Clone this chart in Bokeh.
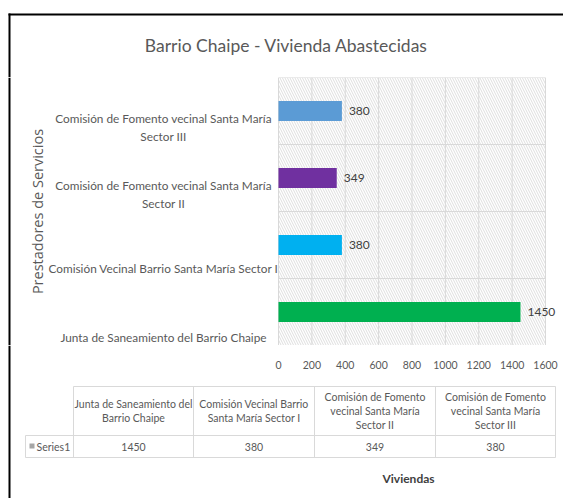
from math import pi
from bokeh.plotting import figure
from bokeh.layouts import column
from bokeh.models import ColumnDataSource, FactorRange, Range1d, Span
from bokeh.embed import file_html
from bokeh.resources import INLINE
from bokeh.core.properties import value

# ---------------- data ----------------
title_text = "Barrio Chaipe - Vivienda Abastecidas"
categories = [
    "Junta de Saneamiento del Barrio Chaipe",
    "Comisión Vecinal Barrio Santa María Sector I",
    "Comisión de Fomento vecinal Santa María Sector II",
    "Comisión de Fomento vecinal Santa María Sector III",
]
axis_labels = [
    "Junta de Saneamiento del Barrio Chaipe",
    "Comisión Vecinal Barrio Santa María Sector I",
    "Comisión de Fomento vecinal Santa María\nSector II",
    "Comisión de Fomento vecinal Santa María\nSector III",
]
table_headers = [
    "Junta de Saneamiento del\nBarrio Chaipe",
    "Comisión Vecinal Barrio\nSanta María Sector I",
    "Comisión de Fomento\nvecinal Santa María\nSector II",
    "Comisión de Fomento\nvecinal Santa María\nSector III",
]
viviendas = [1450, 380, 349, 380]
series_name = "Series1"
x_ticks = [0, 200, 400, 600, 800, 1000, 1200, 1400, 1600]
x_tick_labels = ["0", "200", "400", "600", "800", "1000", "1200", "1400", "1600"]
x_title = "Viviendas"
y_title = "Prestadores de Servicios"

# ---------------- styles / layout ----------------
bar_colors = ["#00b050", "#00b0f0", "#7030a0", "#5b9bd5"]
label_offsets = [25, 23, 16, 16]
GREY = "#595959"
DARK = "#404040"
LINE = "#d9d9d9"
FONT = "Lato"

W = 563
TOP_H, MID_H, BOT_H = 77, 268, 153        # page rows: 0-77, 77-345, 345-498
PL, PR = 278, 545                          # plot area left/right (page px)
K = (x_ticks[-1] - x_ticks[0]) / (PR - PL)  # data units per pixel


def val_range():
    return Range1d(x_ticks[0] - PL * K, x_ticks[-1] + (W - PR) * K)


def mkfig(h, y_range=None):
    f = figure(width=W, height=h, x_range=Range1d(0, W),
               y_range=y_range if y_range is not None else Range1d(h, 0),
               min_border=0, min_border_left=0, min_border_right=0,
               min_border_top=0, min_border_bottom=0,
               x_axis_location=None, y_axis_location=None,
               output_backend="svg", toolbar_location=None,
               background_fill_color="white", border_fill_color="white")
    f.outline_line_color = None
    f.xgrid.visible = False
    f.ygrid.visible = False
    return f


def txt(f, x, y, t, size, color=GREY, align="center", font=FONT, **kw):
    f.text(x=x, y=y, text=t, text_align=align, text_baseline="middle",
           text_font=value(font), text_font_size=value(size),
           text_color=color, **kw)


def left_rule(f):
    f.add_layout(Span(location=9, dimension="height", line_color="black",
                      line_width=2))


# ---------- top: title + frame ----------
top = mkfig(TOP_H)
top.quad(left=[8], right=[W], top=[13], bottom=[15], fill_color="black",
         line_color=None)
top.quad(left=[8], right=[10], top=[13], bottom=[TOP_H], fill_color="black",
         line_color=None)
txt(top, [286], [45], [title_text], "17.5px")

# ---------- middle: bars ----------
mid = mkfig(MID_H, y_range=FactorRange(factors=categories))
mid.extra_x_ranges = {"val": val_range()}
left_rule(mid)

lo, hi = (categories[0], -0.5), (categories[-1], 0.5)
mid.quad(left=[x_ticks[0]], right=[x_ticks[-1]], bottom=[lo], top=[hi],
         fill_alpha=0, line_alpha=0, hatch_pattern="\\", hatch_color="#d6d6d6",
         hatch_scale=5, hatch_weight=0.8, x_range_name="val")
mid.segment(x0=x_ticks, x1=x_ticks, y0=[lo] * len(x_ticks), y1=[hi] * len(x_ticks),
            line_color=LINE, line_width=1, x_range_name="val")
bound_y = [(c, -0.5) for c in categories] + [hi]
mid.segment(x0=[x_ticks[0]] * len(bound_y), x1=[x_ticks[-1]] * len(bound_y),
            y0=bound_y, y1=bound_y, line_color=LINE, line_width=1,
            x_range_name="val")

src = ColumnDataSource(dict(cat=categories, val=viviendas, color=bar_colors,
                            txt=[str(v) for v in viviendas],
                            lab=axis_labels, yoff=label_offsets,
                            lx=[163] * len(categories)))
mid.hbar(y="cat", left=0, right="val", height=0.3, fill_color="color",
         line_color=None, source=src, x_range_name="val")
mid.text(x="val", y="cat", text="txt", source=src, x_offset=7,
         text_align="left", text_baseline="middle", text_font=value(FONT),
         text_font_size=value("12px"), text_color=DARK, x_range_name="val")
mid.text(x="lx", y="cat", text="lab", source=src, y_offset="yoff",
         text_align="center", text_baseline="middle", text_font=value(FONT),
         text_font_size=value("11.8px"), text_line_height=1.2, text_color=GREY)
txt(mid, [37], [(categories[1], 0.5)], [y_title], "14.5px", font="Open Sans",
    angle=pi / 2)

# ---------- bottom: tick labels, data table, x title ----------
bot = mkfig(BOT_H)
bot.extra_x_ranges = {"val": val_range()}
left_rule(bot)
bot.text(x=x_ticks, y=[364 - 345] * len(x_ticks), text=x_tick_labels,
         text_align="center", text_baseline="middle", text_font=value(FONT),
         text_font_size=value("10.5px"), text_color=GREY, x_range_name="val")

T_TOP, T_MID, T_BOT = 386 - 345, 435 - 345, 457 - 345
cols = [25, 73, 193, 314, 435, 555]
hx0 = [cols[1], cols[0], cols[0]]
hy = [T_TOP, T_MID, T_BOT]
bot.segment(x0=hx0, x1=[cols[-1]] * 3, y0=hy, y1=hy, line_color=LINE, line_width=1)
vx = cols
vy0 = [T_MID] + [T_TOP] * (len(cols) - 1)
bot.segment(x0=vx, x1=vx, y0=vy0, y1=[T_BOT] * len(cols), line_color=LINE,
            line_width=1)
centers = [(cols[i + 1] + cols[i + 2]) / 2 for i in range(len(table_headers))]
bot.text(x=centers, y=[(T_TOP + T_MID) / 2] * len(centers), text=table_headers,
         text_align="center", text_baseline="middle", text_font=value(FONT),
         text_font_size=value("10.5px"), text_line_height=1.15, text_color=GREY)
bot.text(x=centers, y=[(T_MID + T_BOT) / 2] * len(centers),
         text=[str(v) for v in viviendas], text_align="center",
         text_baseline="middle", text_font=value(FONT),
         text_font_size=value("10.5px"), text_color=GREY)
bot.quad(left=[29], right=[34], top=[443 - 345], bottom=[448 - 345],
         fill_color="#a6a6a6", line_color=None)
txt(bot, [36], [(T_MID + T_BOT) / 2], [series_name], "10.5px", align="left")
txt(bot, [408], [478 - 345], [x_title], "12px", color=DARK, text_font_style="bold")

layout = column(top, mid, bot)
open("out.html", "w").write(file_html(layout, INLINE))
